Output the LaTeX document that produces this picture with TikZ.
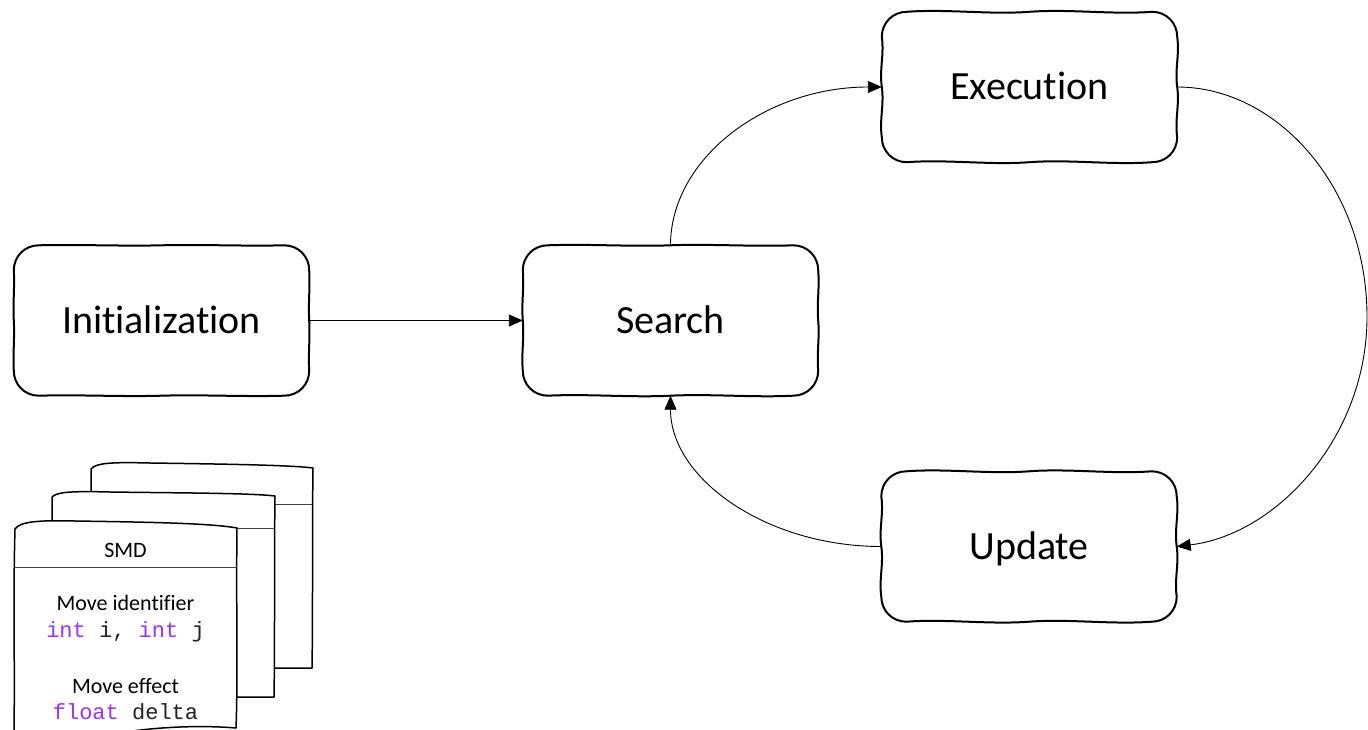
\documentclass[tikz,border=0pt]{standalone}
\usepackage{fontspec}
\setmainfont{Carlito}[Ligatures=NoCommon]
\setmonofont{Liberation Mono}
\usetikzlibrary{arrows.meta,calc}
\definecolor{kw}{HTML}{9933FF}
\definecolor{codetext}{HTML}{222222}

% Hand-drawn rounded box around a named node (corner radius 25).
% #1 node name, #2 top wave, #3 right wave, #4 bottom wave, #5 left wave
\newcommand\handbox[5]{%
  \draw[boxline]
    ($(#1.north west)+(0,25)$)
    .. controls ($(#1.north west)+(0,11)$) and ($(#1.north west)+(11,0)$) .. ($(#1.north west)+(25,0)$)
    .. controls +(40,-#2) and +(-40,#2) .. (#1.north)
    .. controls +(40,-#2) and +(-40,#2) .. ($(#1.north east)+(-25,0)$)
    .. controls ($(#1.north east)+(-11,0)$) and ($(#1.north east)+(0,11)$) .. ($(#1.north east)+(0,25)$)
    .. controls +(#3,18) and +(-#3,-18) .. (#1.east)
    .. controls +(#3,18) and +(-#3,-18) .. ($(#1.south east)+(0,-25)$)
    .. controls ($(#1.south east)+(0,-11)$) and ($(#1.south east)+(-11,0)$) .. ($(#1.south east)+(-25,0)$)
    .. controls +(-40,#4) and +(40,-#4) .. (#1.south)
    .. controls +(-40,#4) and +(40,-#4) .. ($(#1.south west)+(25,0)$)
    .. controls ($(#1.south west)+(11,0)$) and ($(#1.south west)+(0,-11)$) .. ($(#1.south west)+(0,-25)$)
    .. controls +(-#5,-18) and +(#5,18) .. (#1.west)
    .. controls +(-#5,-18) and +(#5,18) .. ($(#1.north west)+(0,25)$)
    -- cycle;
}

\begin{document}
\begin{tikzpicture}[x=1pt,y=-1pt,
  stage/.style={minimum width=295pt,minimum height=150pt,inner sep=0pt,
    font=\fontsize{40}{48}\selectfont,text height=25.8pt,text depth=0pt},
  boxline/.style={line width=2pt,line join=round,line cap=round},
  flow/.style={line width=0.9pt,-{Triangle[length=14pt,width=12pt]}},
  page/.style={line width=1.5pt,fill=white,line join=round},
  header/.style={line width=1pt,draw=black!75},
  lbl/.style={font=\fontsize{22}{26}\selectfont,anchor=base,inner sep=0pt},
  codelbl/.style={font=\ttfamily\fontsize{22}{26}\selectfont,anchor=base,
    inner sep=0pt,text=codetext},
]
\useasboundingbox (0,0) rectangle (1368,730);

% process stages
\node[stage] (init)   at (161.5,320.5) {Initialization};
\node[stage] (search) at (670.5,320.5) {Search};
\node[stage] (exec)   at (1029.5,87)   {Execution};
\node[stage] (update) at (1029,546.5)  {Update};

\handbox{init}{1}{1}{1.2}{1}
\handbox{search}{1.5}{1.5}{2}{1.5}
\handbox{exec}{3}{2.5}{3}{2.5}
\handbox{update}{3}{2.5}{3}{2.5}

% connectors
\coordinate (rim) at (1367,317);
\draw[flow] (init.east) -- (search.west);
\draw[flow] (search.north) .. controls +(0,-87) and +(-116,0) .. (exec.west);
\draw[flow] (exec.east) .. controls +(100,0) and +(0,-130) .. (rim)
                        .. controls +(0,120) and +(100,-12) .. (update.east);
\draw[flow] (update.west) .. controls +(-115,0) and +(0,83) .. (search.south);

% stacked SMD records: back page
\filldraw[page] (91,469) .. controls (96,463) and (110,462) .. (150,463)
  .. controls (220,464) and (290,465) .. (313,468)
  .. controls (312,540) and (313,610) .. (312,668) -- (91,668) -- cycle;
\draw[header] (91,504) -- (312,504);

% middle page
\filldraw[page] (52,497) .. controls (57,492) and (70,491) .. (110,492)
  .. controls (180,493) and (250,493) .. (275,496)
  .. controls (274,570) and (275,640) .. (274,697) -- (52,697) -- cycle;
\draw[header] (52,528) -- (274,528);

% front page
\filldraw[page] (15,529) .. controls (20,522) and (35,520) .. (75,521)
  .. controls (140,522) and (210,523) .. (237,528)
  .. controls (236,600) and (238,680) .. (236,728)
  .. controls (200,725) and (160,727) .. (125,732)
  .. controls (90,737) and (40,737) .. (14,733)
  .. controls (15,660) and (13,600) .. cycle;
\draw[header] (15,567) -- (237,567);

\node[lbl] (smd) at (125.5,557) {SMD};
\node[lbl] (moveid) at (125.5,610) {Move identifier};
\node[codelbl] (moveidcode) at (125.5,637) {\textcolor{kw}{int} i, \textcolor{kw}{int} j};
\node[lbl] (moveeff) at (125.5,693) {Move effect};
\node[codelbl] (moveeffcode) at (125.5,719) {\textcolor{kw}{float} delta};
\end{tikzpicture}
\end{document}
